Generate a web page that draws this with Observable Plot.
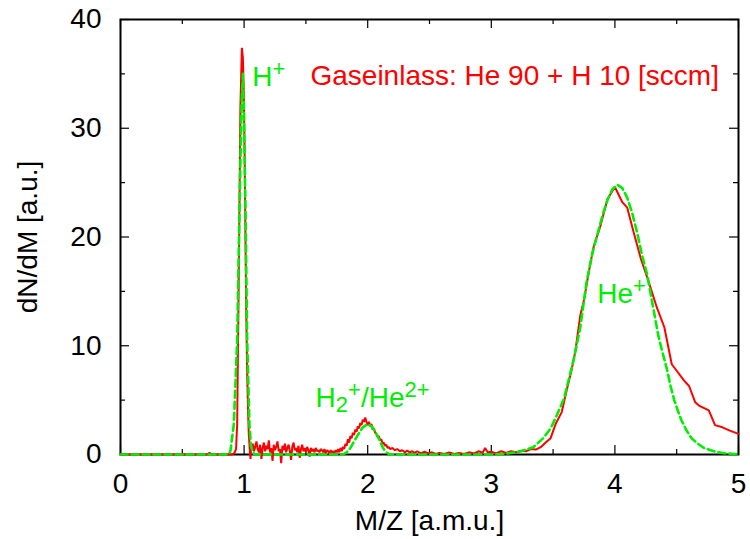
<!DOCTYPE html>
<html><head><meta charset="utf-8">
<script src="https://cdn.jsdelivr.net/npm/d3@7"></script>
<script src="https://cdn.jsdelivr.net/npm/@observablehq/plot@0.6"></script>
<style>html,body{margin:0;padding:0;background:#fff;}</style>
</head><body><div id="chart"></div>
<script>
// Measured spectrum (red)
const redMz = [
  0.00, 0.50, 0.70, 0.72, 0.74, 0.90, 0.92, 0.935, 0.944, 0.957, 0.970, 0.982, 0.990, 0.998, 1.005, 1.011, 1.018, 1.025, 1.032, 1.038, 1.045, 1.052, 1.058,
  1.06, 1.07, 1.08, 1.09, 1.10, 1.11, 1.12, 1.13, 1.14, 1.15,
  1.16, 1.17, 1.18, 1.19, 1.20, 1.21, 1.22, 1.23, 1.24, 1.25,
  1.26, 1.27, 1.28, 1.29, 1.30, 1.31, 1.32, 1.33, 1.34, 1.35,
  1.36, 1.37, 1.38, 1.39, 1.40, 1.41, 1.42, 1.43, 1.44, 1.45,
  1.46, 1.47, 1.48, 1.49, 1.50, 1.51, 1.52, 1.53, 1.54, 1.55,
  1.56, 1.57, 1.58, 1.59, 1.60, 1.61, 1.62,
  1.63, 1.64, 1.65, 1.66, 1.67, 1.68, 1.69, 1.70, 1.71, 1.72, 1.73, 1.74, 1.75, 1.76, 1.77, 1.78, 1.79, 1.80,
  1.81, 1.82, 1.83, 1.84, 1.85, 1.86, 1.87, 1.88, 1.89, 1.90,
  1.91, 1.92, 1.93, 1.94, 1.95, 1.96, 1.97, 1.98, 1.99, 2.00,
  2.01, 2.02, 2.03, 2.04, 2.05, 2.06, 2.07, 2.08, 2.09, 2.10,
  2.11, 2.12, 2.13, 2.14, 2.15, 2.16, 2.17, 2.18,
  2.20, 2.22, 2.24, 2.26, 2.28, 2.30, 2.32, 2.34, 2.36, 2.38, 2.40, 2.43, 2.46, 2.49, 2.52, 2.55, 2.58, 2.62, 2.66, 2.70,
  2.74, 2.78, 2.82, 2.86, 2.90, 2.93, 2.95, 2.97, 3.00, 3.04, 3.08, 3.12, 3.16, 3.20, 3.24, 3.28, 3.32, 3.36, 3.40, 3.44,
  3.48, 3.52, 3.57, 3.61, 3.65, 3.68, 3.72, 3.75, 3.80, 3.83, 3.88, 3.94, 4.00, 4.06, 4.10, 4.15, 4.21, 4.27, 4.34, 4.40,
  4.46, 4.50, 4.56, 4.60, 4.65, 4.68, 4.76, 4.81, 4.87, 4.93, 5.00
];
const redCounts = [
  0, 0, 0, 0.15, 0, 0, 0.1, 0.5, 2.8, 16.6, 31.9, 37.4, 36.5, 33, 27, 19.7, 12.5, 7.4, 4.0, 1.9, 0.6, -0.4, 0.9,
  0.4, 1.0, 0.3, 0.7, 1.2, 0.5, 0.2, 0.9, -0.4, 0.6,
  1.1, 0.3, 0.8, 0.5, 1.3, 0.2, 0.6, -0.6, 0.9, 0.4,
  0.7, 1.2, 0.3, 0.5, -0.8, 0.8, 0.4, 1.0, 0.2, 0.6,
  0.9, 0.3, -0.5, 0.7, 1.1, 0.4, 0.6, 0.2, 0.8, -0.3,
  0.5, 0.9, 0.3, 0.6, 0.2, 0.7, 0.4, -0.2, 0.6, 0.3,
  0.5, 0.2, 0.6, 0.3, 0.4, 0.2, 0.5,
  0.4, 0.2, 0.5, 0.1, 0.4, 0.3, 0.1, 0.4, 0.2, 0.3, 0.1, 0.4, 0.2, 0.5, 0.2, 0.6, 0.3, 0.7,
  0.5, 1.0, 0.8, 1.4, 1.1, 1.7, 1.5, 2.0, 1.8, 2.3,
  2.1, 2.6, 2.4, 2.9, 2.7, 3.2, 3.0, 3.4, 3.0, 2.7,
  3.0, 2.6, 2.8, 2.3, 2.4, 2.0, 1.9, 1.6, 1.7, 1.3,
  1.4, 1.0, 1.1, 0.8, 0.9, 0.6, 0.7, 0.5,
  0.6, 0.4, 0.5, 0.3, 0.4, 0.2, 0.35, 0.2, 0.3, 0.15, 0.3, 0.1, 0.25, 0.1, 0.2, 0.05, 0.15, 0.05, 0.2, 0.05,
  0.15, 0.05, 0.2, 0.1, 0.3, 0.15, 0.6, 0.2, 0.25, 0.1, 0.3, 0.15, 0.3, 0.2, 0.35, 0.3, 0.5, 0.45, 0.67, 1.1,
  1.5, 2.8, 3.9, 5.9, 7.8, 9.5, 12.8, 14.2, 17.5, 19.2, 20.9, 23.5, 24.6, 23.2, 22.7, 20.5, 18.0, 16.0, 13.5, 11.7,
  8.3, 7.7, 6.8, 6.3, 4.8, 4.5, 4.05, 2.7, 2.5, 2.2, 1.9
];
// Fitted curve (green dashed)
const fitMz = [
  0, 0.85, 0.88, 0.89, 0.917, 0.944, 0.963, 0.979, 0.99, 0.998,
  1.011, 1.025, 1.043, 1.055, 1.065, 1.08, 1.10, 1.80, 1.83, 1.86,
  1.88, 1.92, 1.96, 2.00, 2.04, 2.08, 2.12, 2.14, 2.17, 2.20,
  3.00, 3.10, 3.20, 3.24, 3.34, 3.42, 3.48, 3.53, 3.59, 3.67,
  3.72, 3.77, 3.82, 3.86, 3.90, 3.94, 3.98, 4.02, 4.06, 4.10,
  4.14, 4.18, 4.22, 4.26, 4.31, 4.35, 4.38, 4.42, 4.45, 4.48,
  4.51, 4.54, 4.58, 4.62, 4.66, 4.72, 4.80, 4.88, 4.96, 5.00
];
const fitCounts = [
  0, 0, 0.1, 0.37, 2.8, 10.5, 22.7, 31.9, 35.0, 31.9,
  22.7, 10.5, 2.8, 0.9, 0.37, 0.05, 0, 0, 0.2, 0.6,
  1.0, 1.8, 2.5, 2.8, 2.5, 1.7, 0.7, 0.3, 0.05, 0,
  0, 0.05, 0.2, 0.3, 0.67, 1.5, 2.4, 3.6, 5.2, 8.9,
  11.7, 15.8, 18.6, 20.3, 22.0, 23.4, 24.4, 24.8, 24.5, 23.6,
  22.2, 20.4, 18.3, 16.6, 13.5, 11.0, 9.6, 7.9, 6.3, 5.0,
  4.0, 3.1, 2.2, 1.5, 1.1, 0.6, 0.3, 0.12, 0.05, 0.03
];
const xTicks = [0, 1, 2, 3, 4, 5];
const xMinorTicks = [0.5, 1.5, 2.5, 3.5, 4.5];
const yTicks = [0, 10, 20, 30, 40];
const yMinorTicks = [5, 15, 25, 35];
const peakLabels = ["H^+", "H_2^+/He^{2+}", "He^+"];
const peakLabelMz = [1.066, 1.578, 3.857];
const peakLabelCounts = [33.9, 4.35, 13.9];
const annotationText = ["Gaseinlass: He 90 + H 10 [sccm]"];
const annotationMz = [1.537];
const annotationCounts = [34.0];
const xLabel = "M/Z [a.m.u.]";
const yLabel = "dN/dM [a.u.]";

const red = redMz.map((x, i) => ({x, y: redCounts[i]}));
const fit = fitMz.map((x, i) => ({x, y: fitCounts[i]}));
const peaks = peakLabels.map((t, i) => ({t, x: peakLabelMz[i], y: peakLabelCounts[i]}));
const notes = annotationText.map((t, i) => ({t, x: annotationMz[i], y: annotationCounts[i]}));

const W = 750, H = 539, mL = 120, mR = 12, mT = 19, mB = 85;
const iw = W - mL - mR, ih = H - mT - mB;
const major = 9, minor = 5;
const RED = "#ff0000", GREEN = "#00ee00";

const chart = Plot.plot({
  width: W, height: H,
  marginLeft: mL, marginRight: mR, marginTop: mT, marginBottom: mB,
  style: {fontFamily: "'Liberation Sans', Arial, Helvetica, sans-serif", fontSize: "28px", color: "black", background: "white", overflow: "visible"},
  x: {domain: [0, 5], label: null},
  y: {domain: [0, 40], label: null},
  marks: [
    Plot.tickX(xTicks, {x: d => d, insetTop: ih - major, stroke: "black", strokeWidth: 1.2}),
    Plot.tickX(xTicks, {x: d => d, insetBottom: ih - major, stroke: "black", strokeWidth: 1.2}),
    Plot.tickX(xMinorTicks, {x: d => d, insetTop: ih - minor, stroke: "black", strokeWidth: 1.2}),
    Plot.tickX(xMinorTicks, {x: d => d, insetBottom: ih - minor, stroke: "black", strokeWidth: 1.2}),
    Plot.tickY(yTicks, {y: d => d, insetRight: iw - major, stroke: "black", strokeWidth: 1.2}),
    Plot.tickY(yTicks, {y: d => d, insetLeft: iw - major, stroke: "black", strokeWidth: 1.2}),
    Plot.tickY(yMinorTicks, {y: d => d, insetRight: iw - minor, stroke: "black", strokeWidth: 1.2}),
    Plot.tickY(yMinorTicks, {y: d => d, insetLeft: iw - minor, stroke: "black", strokeWidth: 1.2}),
    Plot.frame({stroke: "black", strokeWidth: 2}),
    Plot.axisX({ticks: xTicks, tickSize: 0, tickPadding: 19, label: null, tickFormat: d => String(d)}),
    Plot.axisY({ticks: yTicks, tickSize: 0, tickPadding: 19, label: null, tickFormat: d => String(d)}),
    Plot.line(red, {x: "x", y: "y", stroke: RED, strokeWidth: 2, strokeLinejoin: "miter"}),
    Plot.line(fit, {x: "x", y: "y", stroke: GREEN, strokeWidth: 2.6, strokeDasharray: "7,4"}),
    Plot.text(peaks, {x: "x", y: "y", text: "t", fill: GREEN, textAnchor: "start", lineAnchor: "bottom"}),
    Plot.text(notes, {x: "x", y: "y", text: "t", fill: RED, textAnchor: "start", lineAnchor: "bottom"}),
    Plot.text([xLabel], {text: d => d, frameAnchor: "bottom", dy: 75, lineAnchor: "bottom", textAnchor: "middle"}),
    Plot.text([yLabel], {text: d => d, frameAnchor: "left", dx: -92, rotate: -90, textAnchor: "middle", lineAnchor: "middle"})
  ]
});
document.getElementById("chart").appendChild(chart);

// Render gnuplot-like ^sup and _sub markup as tspans
function parseRich(s) {
  const segs = []; let i = 0, buf = "";
  while (i < s.length) {
    const c = s[i];
    if (c === "^" || c === "_") {
      if (buf) { segs.push({t: buf, k: 0}); buf = ""; }
      let t;
      if (s[i + 1] === "{") { const j = s.indexOf("}", i + 2); t = s.slice(i + 2, j); i = j + 1; }
      else { t = s[i + 1]; i += 2; }
      segs.push({t, k: c === "^" ? 1 : -1});
    } else { buf += c; i++; }
  }
  if (buf) segs.push({t: buf, k: 0});
  return segs;
}
d3.select(chart).selectAll("text").each(function() {
  const s = this.textContent;
  if (!/[\^_]/.test(s)) return;
  const el = d3.select(this);
  el.text(null);
  let cur = 0;
  for (const seg of parseRich(s)) {
    const target = seg.k === 1 ? -10 : seg.k === -1 ? 5 : 0;
    const ts = el.append("tspan").text(seg.t);
    if (target - cur !== 0) ts.attr("dy", target - cur);
    if (seg.k !== 0) ts.attr("font-size", "22px");
    cur = target;
  }
});
</script>
</body></html>
